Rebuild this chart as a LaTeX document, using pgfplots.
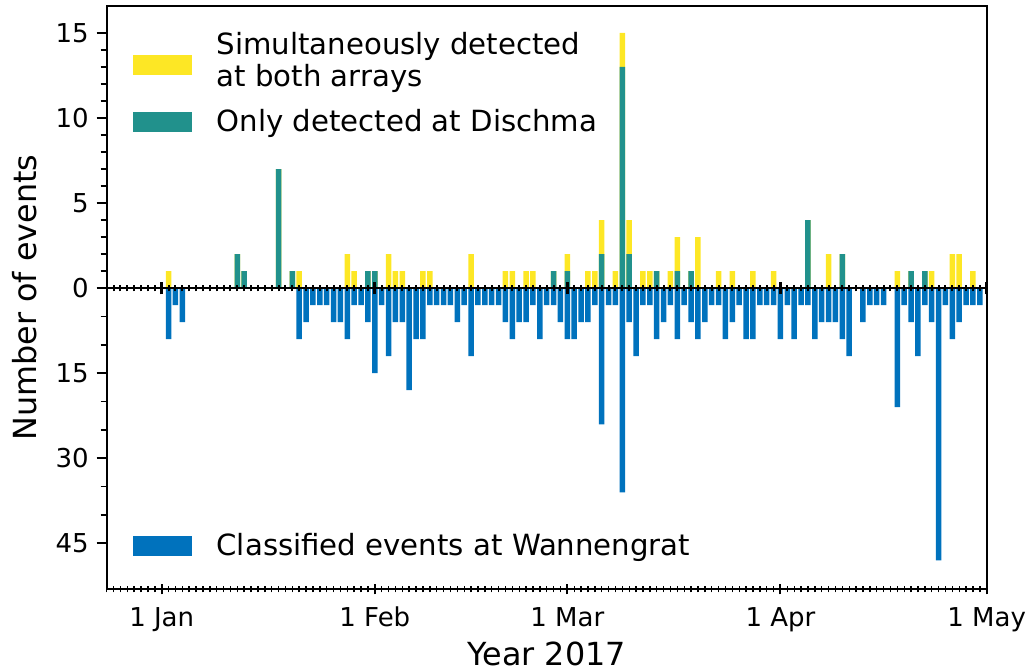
\documentclass[border=0pt]{standalone}
\usepackage{fontspec}
\setmainfont{DejaVu Sans}
\usepackage{pgfplots}
\usepackage{pgfplotstable}
\pgfplotsset{compat=1.18}
\definecolor{cyel}{HTML}{FDE725}
\definecolor{cteal}{HTML}{21918C}
\definecolor{cblue}{HTML}{0072BD}

% day index (0 = 1 Jan 2017), Dischma only, both arrays
\pgfplotstableread{
d dis both
1 0 1
11 2 0
12 1 0
17 7 0
19 1 0
20 0 1
27 0 2
28 0 1
30 1 0
31 1 0
33 0 2
34 0 1
35 0 1
38 0 1
39 0 1
45 0 2
50 0 1
51 0 1
53 0 1
54 0 1
57 1 0
59 1 1
62 0 1
63 0 1
64 2 2
66 0 1
67 13 2
68 2 2
70 0 1
71 0 1
72 1 0
74 0 1
75 1 2
77 1 0
78 0 3
81 0 1
83 0 1
86 0 1
89 0 1
94 4 0
97 0 2
99 2 0
107 0 1
109 1 0
111 1 0
112 0 1
115 0 2
116 0 2
118 0 1
}\postab

% day index, classified events at Wannengrat
\pgfplotstableread{
d n
1 9
2 3
3 6
20 9
21 6
22 3
23 3
24 3
25 6
26 6
27 9
28 3
29 3
30 6
31 15
32 3
33 12
34 6
35 6
36 18
37 9
38 9
39 3
40 3
41 3
42 3
43 6
44 3
45 12
46 3
47 3
48 3
49 3
50 6
51 9
52 6
53 6
54 3
55 9
56 3
57 3
58 6
59 9
60 9
61 6
62 6
63 3
64 24
65 3
66 3
67 36
68 6
69 12
70 3
71 3
72 9
73 6
74 3
75 9
76 3
77 6
78 9
79 6
80 3
81 3
82 9
83 6
84 3
85 9
86 9
87 3
88 3
89 3
90 9
91 3
92 9
93 3
94 3
95 9
96 6
97 6
98 6
99 9
100 12
102 6
103 3
104 3
105 3
107 21
108 3
109 6
110 12
111 3
112 6
113 48
114 3
115 9
116 6
117 3
118 3
119 3
}\negtab

\begin{document}
\begin{tikzpicture}
\begin{axis}[
  name=ax,
  scale only axis, width=440pt, height=291.8pt,
  xmin=-8, xmax=120, ymin=-17.7, ymax=16.6,
  ybar, bar width=0.8, bar shift=0pt,
  xtick={0,31,59,90,120}, xticklabels={1 Jan,1 Feb,1 Mar,1 Apr,1 May},
  minor xtick={-8,...,120},
  ytick={-15,-10,-5,0,5,10,15}, yticklabels={45,30,15,0,5,10,15},
  minor ytick={-13.3333,-11.6667,-8.3333,-6.6667,-3.3333,-1.6667,1,2,3,4,6,7,8,9,11,12,13,14},
  tick pos=left,
  xtick align=center, ytick align=outside,
  major tick length=5pt, minor tick length=3pt,
  every tick/.style={black, line width=1pt},
  minor tick style={line width=0.7pt},
  axis line style={line width=1.1pt},
  /pgf/number format/assume math mode=true,
  tick label style={font=\fontsize{13}{15}\selectfont},
  xticklabel style={anchor=base, yshift=-16pt},
  yticklabel style={xshift=-0.5pt},
  label style={font=\fontsize{15.9}{19}\selectfont},
  xlabel={Year 2017}, ylabel={Number of events},
  xlabel style={at={(axis description cs:0.5,0)}, anchor=base, yshift=-37.9pt, inner sep=0pt},
  ylabel style={at={(axis description cs:-0.08034,0.5)}, anchor=base, inner sep=0pt},
  legend cell align=left,
  legend image code/.code={\fill[#1] (0pt,-5pt) rectangle (29.5pt,5pt);},
  legend style={draw=none, fill=none, at={(axis description cs:0.0299,0.9543)},
    anchor=north west, inner sep=0pt, outer sep=0pt, row sep=9.75pt, column sep=12.3pt,
    font=\fontsize{14.6}{16.15}\selectfont, nodes={inner sep=0pt, align=left}},
]
\addplot[fill=cyel, draw=none,
  legend image code/.code={\fill[##1] (0pt,-7pt) rectangle (29.5pt,3pt);}]
  table[x=d, y expr=\thisrow{dis}+\thisrow{both}] {\postab};
\addlegendentry{Simultaneously detected\\at both arrays}
\addplot[fill=cteal, draw=none] table[x=d, y=dis] {\postab};
\addlegendentry{Only detected at Dischma}
\addplot[fill=cblue, draw=none, forget plot] table[x=d, y expr=-\thisrow{n}/3] {\negtab};
\end{axis}
\begin{axis}[
  scale only axis, width=440pt, height=291.8pt,
  at={(ax.south west)}, anchor=south west,
  xmin=-8, xmax=120, ymin=-17.7, ymax=16.6,
  axis x line=middle, axis y line=none,
  x axis line style={-, line width=1.3pt},
  xtick={0,31,59,90,120}, xticklabels={}, minor xtick={-8,...,120},
  ytick=\empty,
  tick align=center,
  major tick length=6.3pt, minor tick length=3.3pt,
  every tick/.style={black},
  major tick style={line width=1.5pt}, minor tick style={line width=1pt},
  legend cell align=left,
  legend image code/.code={\fill[#1] (0pt,-5pt) rectangle (29.5pt,5pt);},
  legend style={draw=none, fill=none, at={(axis description cs:0.0299,0.075)},
    anchor=west, inner sep=0pt, outer sep=0pt, column sep=12.3pt,
    font=\fontsize{14.6}{16.15}\selectfont, nodes={inner sep=0pt, align=left}},
]
\addlegendimage{fill=cblue, draw=none}
\addlegendentry{Classified events at Wannengrat}
\end{axis}
\pgfresetboundingbox
\path[use as bounding box] ([xshift=-53.35pt,yshift=-39.85pt]ax.south west) rectangle ([xshift=24.15pt,yshift=2.85pt]ax.north east);
\end{tikzpicture}
\end{document}
